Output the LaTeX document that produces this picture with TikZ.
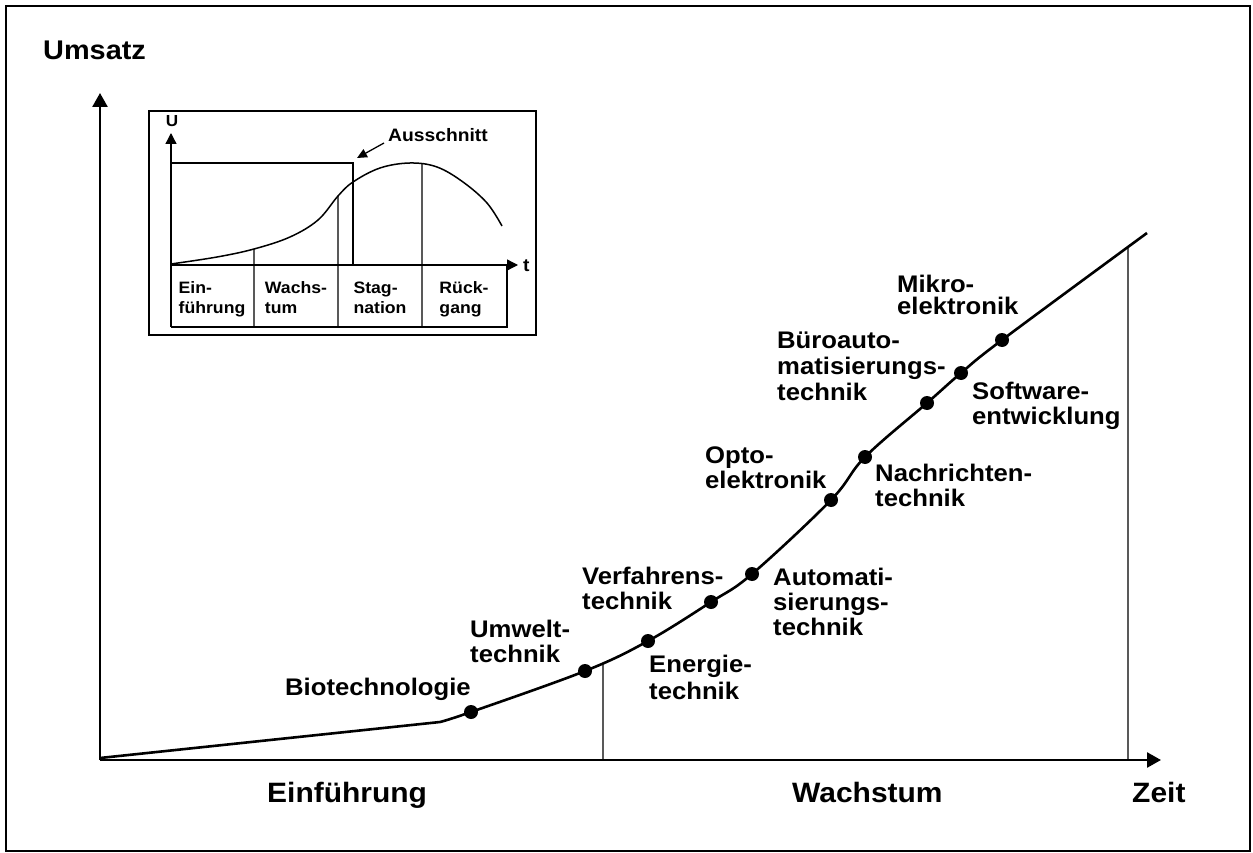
\documentclass[tikz,border=0pt]{standalone}
\usepackage{fontspec}
\setmainfont{Liberation Sans}[FakeStretch=1.07]
\usetikzlibrary{arrows.meta,intersections}
\begin{document}
\begin{tikzpicture}[x=1pt,y=-1pt,
  lab/.style={font=\fontsize{24}{25}\selectfont\bfseries, align=left, anchor=base west, inner sep=0pt},
  big/.style={font=\fontsize{28}{30}\selectfont\bfseries, anchor=base west, inner sep=0pt},
  cell/.style={font=\fontsize{16.5}{20}\selectfont\bfseries, align=left, inner sep=0pt, anchor=base},
  dot/.style={circle, fill=black, inner sep=0pt, minimum size=14pt},
  axisline/.style={line width=2.6pt},
  thinline/.style={line width=1.3pt},
  bigtip/.style={-{Triangle[length=14pt,width=15pt]}},
  smalltip/.style={-{Triangle[length=11pt,width=11pt]}}]
\useasboundingbox (0,0) rectangle (1253,853);
% outer frame
\draw[line width=1.3pt] (6,6) rectangle (1250,851);

% ---------- main chart ----------
\coordinate (O) at (100,760);
\coordinate (ytip) at (100,93);
\coordinate (xtip) at (1161,760);
\draw[axisline, bigtip] (O) -- (ytip);
\draw[axisline, bigtip] (O) -- (xtip);

\coordinate (c0) at (100,758);
\coordinate (c1) at (440,722);
\coordinate (d1) at (471,712);
\coordinate (d2) at (585,671);
\coordinate (d3) at (648,641);
\coordinate (d4) at (711,602);
\coordinate (d5) at (752,574);
\coordinate (d6) at (831,500);
\coordinate (d7) at (865,457);
\coordinate (d8) at (927,403);
\coordinate (d9) at (961,373);
\coordinate (d10) at (1002,340);
\coordinate (cend) at (1147,233);
\draw[axisline, line join=round, name path=curve] (c0) -- (c1)
  plot[smooth, tension=0.6] coordinates {(c1) (d1) (d2) (d3) (d4) (d5) (d6) (d7) (d8) (d9) (d10) (cend)};

\path[name path=v1] (603,770) -- (603,500);
\path[name path=v2] (1128,770) -- (1128,150);
\path[name intersections={of=curve and v1, by=i1}];
\path[name intersections={of=curve and v2, by=i2}];
\coordinate (b1) at (603,760);
\coordinate (b2) at (1128,760);
\draw[thinline] (b1) -- (i1);
\draw[thinline] (b2) -- (i2);

\foreach \d in {d1,d2,d3,d4,d5,d6,d7,d8,d9,d10} \node[dot] (n\d) at (\d) {};

\node[big, font=\fontsize{27}{30}\selectfont\bfseries] (umsatz) at (43,60) {Umsatz};
\node[big] (einf) at (267,802) {Einführung};
\node[big] (wachs) at (792,802) {Wachstum};
\node[big] (zeit) at (1132,802) {Zeit};

% anchor base = baseline of the last line
\node[lab] (bio) at (285,695) {Biotechnologie};
\node[lab] (umw) at (470,662) {Umwelt-\\technik};
\node[lab] (verf) at (582,609) {Verfahrens-\\technik};
\node[lab, font=\fontsize{24}{27}\selectfont\bfseries] (energ) at (649,699) {Energie-\\technik};
\node[lab] (auto) at (773,635) {Automati-\\sierungs-\\technik};
\node[lab] (opto) at (705,488) {Opto-\\elektronik};
\node[lab] (nachr) at (875,506) {Nachrichten-\\technik};
\node[lab, font=\fontsize{24}{26}\selectfont\bfseries] (buero) at (777,400) {Büroauto-\\matisierungs-\\technik};
\node[lab] (soft) at (972,424) {Software-\\entwicklung};
\node[lab, font=\fontsize{24}{22}\selectfont\bfseries] (mikro) at (897,314) {Mikro-\\elektronik};

% ---------- inset ----------
\draw[line width=1.1pt] (149,111) rectangle (536,335);
\coordinate (io) at (171,265);
\coordinate (ib) at (171,327);
\coordinate (iytip) at (171,133);
\coordinate (ixtip) at (518,265);
\draw[thinline, smalltip] (ib) -- (iytip);
\draw[thinline, smalltip] (io) -- (ixtip);
\coordinate (tbr) at (507,327);
\coordinate (ttr) at (507,265);
\draw[thinline] (ib) -- (tbr) -- (ttr);

\draw[line width=1.5pt, name path=icurve] plot[smooth, tension=0.6] coordinates {(171,264) (217,257) (254,249) (290,237) (318,220) (338,196) (353,182) (380,168) (410,163) (437,167) (463,182) (487,203) (502,226)};

\foreach \xx/\nm in {254/a,338/b,422/c} {
  \path[name path=iv\nm] (\xx,330) -- (\xx,140);
  \path[name intersections={of=icurve and iv\nm, by=ii\nm}];
  \coordinate (ib\nm) at (\xx,327);
  \draw[line width=1.1pt] (ib\nm) -- (ii\nm);
}

\coordinate (r1) at (171,163);
\coordinate (r2) at (353,163);
\coordinate (r3) at (353,265);
\draw[line width=1.1pt] (r1) -- (r2) -- (r3);

\node[font=\fontsize{16}{16}\selectfont\bfseries, inner sep=0pt, anchor=base] (U) at (172,127) {U};
\node[font=\fontsize{18}{18}\selectfont\bfseries, inner sep=0pt, anchor=base west] (t) at (523,272) {t};
\node[font=\fontsize{18}{18}\selectfont\bfseries, inner sep=0pt, anchor=base west] (aus) at (388,142) {Ausschnitt};
\coordinate (atip) at (357,158);
\coordinate (astart) at (384,143);
\draw[thinline, -{Triangle[length=10pt,width=9pt]}] (astart) -- (atip);

\node[cell] (c1t) at (212,313) {Ein-\\führung};
\node[cell] (c2t) at (296,313) {Wachs-\\tum};
\node[cell] (c3t) at (380,313) {Stag-\\nation};
\node[cell] (c4t) at (464,313) {Rück-\\gang};
\end{tikzpicture}
\end{document}
